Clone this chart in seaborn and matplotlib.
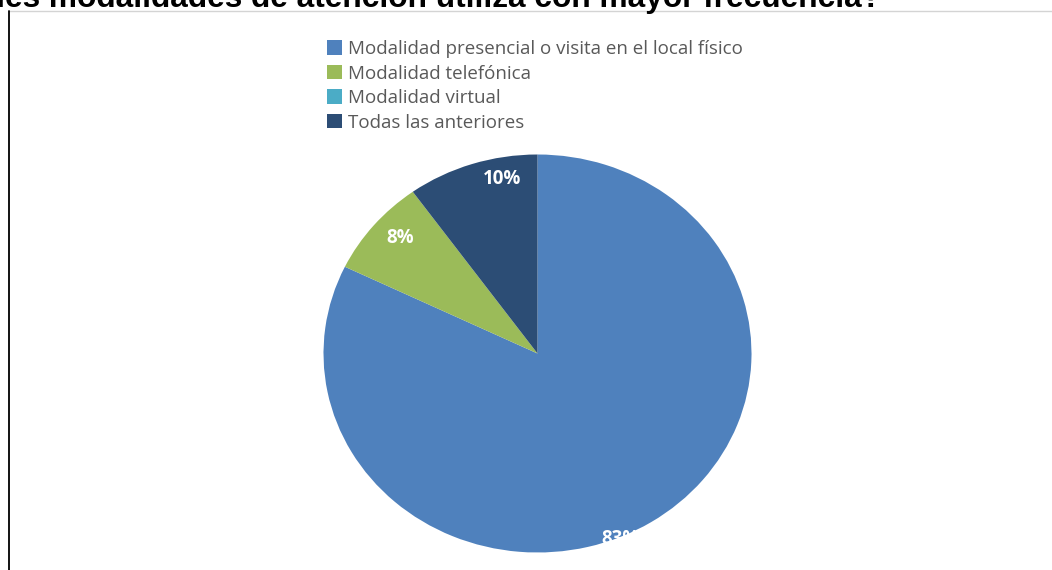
import numpy as np
import matplotlib
matplotlib.use("Agg")
import matplotlib.pyplot as plt
from matplotlib.lines import Line2D
import seaborn as sns

# Survey answers: which service channel is used most often
categories = [
    "Modalidad presencial o visita en el local físico",
    "Modalidad telefónica",
    "Modalidad virtual",
    "Todas las anteriores",
]
shares = [83, 8, 0, 10]
title_text = "¿Cuáles modalidades de atención utiliza con mayor frecuencia?"

sns.set_theme(style="white")
plt.rcParams["font.family"] = ["Open Sans", "DejaVu Sans"]

colors = sns.color_palette(["#4F81BD", "#9BBB59", "#4BACC6", "#2C4D75"])

W, H = 1052, 570
fig = plt.figure(figsize=(W / 100, H / 100), dpi=100)
fig.patch.set_facecolor("white")

# Pie area (pixel geometry of the plot box)
cx, cy, rx, ry = 537.5, 353.5, 214, 199
ax = fig.add_axes([(cx - rx) / W, 1 - (cy + ry) / H, 2 * rx / W, 2 * ry / H])
wedges, _ = ax.pie(
    shares,
    colors=colors,
    startangle=90,
    counterclock=False,
    radius=1,
    wedgeprops=dict(linewidth=0),
)
ax.set_aspect("auto")
ax.set_xlim(-1, 1)
ax.set_ylim(-1, 1)
ax.axis("off")

# Percentage labels near the outer edge of each slice: (radius, angle shift)
label_place = [(1.01, -9.5), (0.862, -2.0), None, (0.894, -7.0)]
for w, v, place in zip(wedges, shares, label_place):
    if v <= 0 or place is None:
        continue
    r, dth = place
    mid = np.deg2rad((w.theta1 + w.theta2) / 2 + dth)
    ax.text(
        r * np.cos(mid), r * np.sin(mid), f"{v}%",
        ha="center", va="center", color="white",
        fontsize=13.5, fontweight="bold", clip_on=False,
    )

# Legend above the pie
fig.legend(
    wedges, categories,
    loc="upper left",
    bbox_to_anchor=(327 / W, 1 - 40 / H),
    bbox_transform=fig.transFigure,
    frameon=False,
    fontsize=13.5,
    handlelength=0.8,
    handleheight=0.8,
    handletextpad=0.3,
    labelspacing=0.35,
    borderpad=0,
    borderaxespad=0,
    labelcolor="#595959",
)

# Question heading
fig.text(
    881 / W, 1 - 7.3 / H, title_text,
    ha="right", va="baseline", fontsize=22.75, fontweight="bold",
    family=["Liberation Sans", "DejaVu Sans"], color="black",
)

# Box edges
fig.add_artist(Line2D([9 / W, 1.0], [1 - 11 / H, 1 - 11 / H],
                      transform=fig.transFigure, color="#d4d4d4", lw=1.0))
fig.add_artist(Line2D([8.5 / W, 8.5 / W], [1 - 11 / H, 0.0],
                      transform=fig.transFigure, color="black", lw=1.3))

fig.savefig("out.png", dpi=100, facecolor="white")
